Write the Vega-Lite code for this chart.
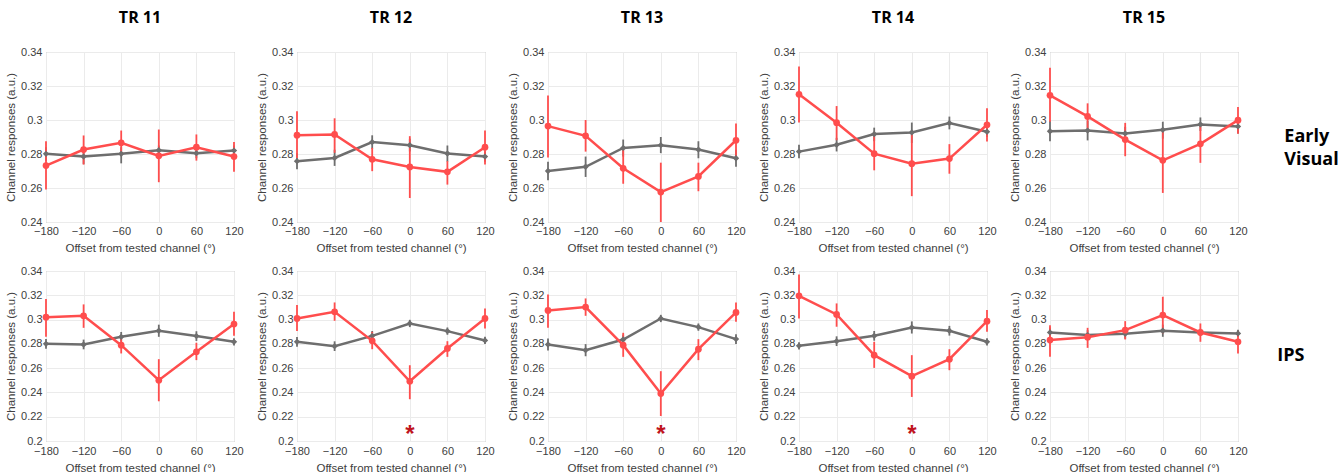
{
"$schema": "https://vega.github.io/schema/vega-lite/v6.json",
"background": "white",
"padding": {"left": 5, "top": 10, "right": 5, "bottom": 0},
"config": {
  "font": "Liberation Sans",
  "view": {"stroke": "#a6a6a6", "strokeWidth": 1},
  "axis": {"labelColor": "#404040", "titleColor": "#404040", "labelFontSize": 11, "titleFontSize": 11.5, "titleFontWeight": "normal", "gridColor": "#ebebeb", "domain": false, "ticks": false, "labelPadding": 4, "titlePadding": 4},
  "axisX": {"labelFlush": false, "tickSize": 0, "labelPadding": -3, "titlePadding": 6},
  "header": {"labelFont": "Open Sans", "labelFontWeight": "bold", "labelFontSize": 16, "labelColor": "black"},
  "concat": {"spacing": 10},
  "facet": {"spacing": 16}
},
"datasets": {"d": [
{"region":"Early Visual","tr":"TR 11","cond":"Condition 1","offset":-180,"mean":0.2801,"lo":0.2760,"hi":0.2840},
{"region":"Early Visual","tr":"TR 11","cond":"Condition 1","offset":-120,"mean":0.2785,"lo":0.2740,"hi":0.2830},
{"region":"Early Visual","tr":"TR 11","cond":"Condition 1","offset":-60,"mean":0.2801,"lo":0.2745,"hi":0.2840},
{"region":"Early Visual","tr":"TR 11","cond":"Condition 1","offset":0,"mean":0.2822,"lo":0.2790,"hi":0.2850},
{"region":"Early Visual","tr":"TR 11","cond":"Condition 1","offset":60,"mean":0.2805,"lo":0.2775,"hi":0.2835},
{"region":"Early Visual","tr":"TR 11","cond":"Condition 1","offset":120,"mean":0.2820,"lo":0.2790,"hi":0.2850},
{"region":"Early Visual","tr":"TR 11","cond":"Condition 2","offset":-180,"mean":0.2732,"lo":0.2591,"hi":0.2875},
{"region":"Early Visual","tr":"TR 11","cond":"Condition 2","offset":-120,"mean":0.2826,"lo":0.2738,"hi":0.2909},
{"region":"Early Visual","tr":"TR 11","cond":"Condition 2","offset":-60,"mean":0.2866,"lo":0.2793,"hi":0.2938},
{"region":"Early Visual","tr":"TR 11","cond":"Condition 2","offset":0,"mean":0.2789,"lo":0.2634,"hi":0.2944},
{"region":"Early Visual","tr":"TR 11","cond":"Condition 2","offset":60,"mean":0.2840,"lo":0.2761,"hi":0.2915},
{"region":"Early Visual","tr":"TR 11","cond":"Condition 2","offset":120,"mean":0.2785,"lo":0.2695,"hi":0.2870},

{"region":"Early Visual","tr":"TR 12","cond":"Condition 1","offset":-180,"mean":0.2758,"lo":0.2710,"hi":0.2805},
{"region":"Early Visual","tr":"TR 12","cond":"Condition 1","offset":-120,"mean":0.2777,"lo":0.2730,"hi":0.2825},
{"region":"Early Visual","tr":"TR 12","cond":"Condition 1","offset":-60,"mean":0.2870,"lo":0.2830,"hi":0.2910},
{"region":"Early Visual","tr":"TR 12","cond":"Condition 1","offset":0,"mean":0.2852,"lo":0.2815,"hi":0.2890},
{"region":"Early Visual","tr":"TR 12","cond":"Condition 1","offset":60,"mean":0.2803,"lo":0.2755,"hi":0.2850},
{"region":"Early Visual","tr":"TR 12","cond":"Condition 1","offset":120,"mean":0.2785,"lo":0.2755,"hi":0.2815},
{"region":"Early Visual","tr":"TR 12","cond":"Condition 2","offset":-180,"mean":0.2911,"lo":0.2777,"hi":0.3052},
{"region":"Early Visual","tr":"TR 12","cond":"Condition 2","offset":-120,"mean":0.2915,"lo":0.2807,"hi":0.3010},
{"region":"Early Visual","tr":"TR 12","cond":"Condition 2","offset":-60,"mean":0.2769,"lo":0.2699,"hi":0.2836},
{"region":"Early Visual","tr":"TR 12","cond":"Condition 2","offset":0,"mean":0.2724,"lo":0.2541,"hi":0.2905},
{"region":"Early Visual","tr":"TR 12","cond":"Condition 2","offset":60,"mean":0.2695,"lo":0.2620,"hi":0.2758},
{"region":"Early Visual","tr":"TR 12","cond":"Condition 2","offset":120,"mean":0.2840,"lo":0.2738,"hi":0.2938},

{"region":"Early Visual","tr":"TR 13","cond":"Condition 1","offset":-180,"mean":0.2700,"lo":0.2645,"hi":0.2755},
{"region":"Early Visual","tr":"TR 13","cond":"Condition 1","offset":-120,"mean":0.2725,"lo":0.2665,"hi":0.2785},
{"region":"Early Visual","tr":"TR 13","cond":"Condition 1","offset":-60,"mean":0.2836,"lo":0.2785,"hi":0.2885},
{"region":"Early Visual","tr":"TR 13","cond":"Condition 1","offset":0,"mean":0.2852,"lo":0.2805,"hi":0.2900},
{"region":"Early Visual","tr":"TR 13","cond":"Condition 1","offset":60,"mean":0.2826,"lo":0.2775,"hi":0.2875},
{"region":"Early Visual","tr":"TR 13","cond":"Condition 1","offset":120,"mean":0.2775,"lo":0.2725,"hi":0.2825},
{"region":"Early Visual","tr":"TR 13","cond":"Condition 2","offset":-180,"mean":0.2964,"lo":0.2779,"hi":0.3144},
{"region":"Early Visual","tr":"TR 13","cond":"Condition 2","offset":-120,"mean":0.2907,"lo":0.2814,"hi":0.3000},
{"region":"Early Visual","tr":"TR 13","cond":"Condition 2","offset":-60,"mean":0.2716,"lo":0.2625,"hi":0.2828},
{"region":"Early Visual","tr":"TR 13","cond":"Condition 2","offset":0,"mean":0.2576,"lo":0.2400,"hi":0.2749},
{"region":"Early Visual","tr":"TR 13","cond":"Condition 2","offset":60,"mean":0.2668,"lo":0.2581,"hi":0.2749},
{"region":"Early Visual","tr":"TR 13","cond":"Condition 2","offset":120,"mean":0.2881,"lo":0.2783,"hi":0.2980},

{"region":"Early Visual","tr":"TR 14","cond":"Condition 1","offset":-180,"mean":0.2814,"lo":0.2775,"hi":0.2855},
{"region":"Early Visual","tr":"TR 14","cond":"Condition 1","offset":-120,"mean":0.2854,"lo":0.2815,"hi":0.2895},
{"region":"Early Visual","tr":"TR 14","cond":"Condition 1","offset":-60,"mean":0.2917,"lo":0.2875,"hi":0.2955},
{"region":"Early Visual","tr":"TR 14","cond":"Condition 1","offset":0,"mean":0.2927,"lo":0.2865,"hi":0.2985},
{"region":"Early Visual","tr":"TR 14","cond":"Condition 1","offset":60,"mean":0.2982,"lo":0.2945,"hi":0.3020},
{"region":"Early Visual","tr":"TR 14","cond":"Condition 1","offset":120,"mean":0.2931,"lo":0.2900,"hi":0.2960},
{"region":"Early Visual","tr":"TR 14","cond":"Condition 2","offset":-180,"mean":0.3151,"lo":0.2986,"hi":0.3315},
{"region":"Early Visual","tr":"TR 14","cond":"Condition 2","offset":-120,"mean":0.2984,"lo":0.2881,"hi":0.3082},
{"region":"Early Visual","tr":"TR 14","cond":"Condition 2","offset":-60,"mean":0.2802,"lo":0.2704,"hi":0.2907},
{"region":"Early Visual","tr":"TR 14","cond":"Condition 2","offset":0,"mean":0.2743,"lo":0.2552,"hi":0.2936},
{"region":"Early Visual","tr":"TR 14","cond":"Condition 2","offset":60,"mean":0.2773,"lo":0.2684,"hi":0.2858},
{"region":"Early Visual","tr":"TR 14","cond":"Condition 2","offset":120,"mean":0.2972,"lo":0.2873,"hi":0.3069},

{"region":"Early Visual","tr":"TR 15","cond":"Condition 1","offset":-180,"mean":0.2934,"lo":0.2875,"hi":0.2995},
{"region":"Early Visual","tr":"TR 15","cond":"Condition 1","offset":-120,"mean":0.2938,"lo":0.2880,"hi":0.2995},
{"region":"Early Visual","tr":"TR 15","cond":"Condition 1","offset":-60,"mean":0.2921,"lo":0.2880,"hi":0.2960},
{"region":"Early Visual","tr":"TR 15","cond":"Condition 1","offset":0,"mean":0.2942,"lo":0.2890,"hi":0.2990},
{"region":"Early Visual","tr":"TR 15","cond":"Condition 1","offset":60,"mean":0.2974,"lo":0.2935,"hi":0.3015},
{"region":"Early Visual","tr":"TR 15","cond":"Condition 1","offset":120,"mean":0.2962,"lo":0.2920,"hi":0.3000},
{"region":"Early Visual","tr":"TR 15","cond":"Condition 2","offset":-180,"mean":0.3145,"lo":0.2989,"hi":0.3308},
{"region":"Early Visual","tr":"TR 15","cond":"Condition 2","offset":-120,"mean":0.3021,"lo":0.2935,"hi":0.3098},
{"region":"Early Visual","tr":"TR 15","cond":"Condition 2","offset":-60,"mean":0.2885,"lo":0.2787,"hi":0.2983},
{"region":"Early Visual","tr":"TR 15","cond":"Condition 2","offset":0,"mean":0.2763,"lo":0.2571,"hi":0.2950},
{"region":"Early Visual","tr":"TR 15","cond":"Condition 2","offset":60,"mean":0.2860,"lo":0.2748,"hi":0.2964},
{"region":"Early Visual","tr":"TR 15","cond":"Condition 2","offset":120,"mean":0.2999,"lo":0.2919,"hi":0.3076},

{"region":"IPS","tr":"TR 11","cond":"Condition 1","offset":-180,"mean":0.2800,"lo":0.2760,"hi":0.2840},
{"region":"IPS","tr":"TR 11","cond":"Condition 1","offset":-120,"mean":0.2795,"lo":0.2755,"hi":0.2835},
{"region":"IPS","tr":"TR 11","cond":"Condition 1","offset":-60,"mean":0.2858,"lo":0.2818,"hi":0.2898},
{"region":"IPS","tr":"TR 11","cond":"Condition 1","offset":0,"mean":0.2908,"lo":0.2858,"hi":0.2958},
{"region":"IPS","tr":"TR 11","cond":"Condition 1","offset":60,"mean":0.2864,"lo":0.2824,"hi":0.2904},
{"region":"IPS","tr":"TR 11","cond":"Condition 1","offset":120,"mean":0.2817,"lo":0.2787,"hi":0.2847},
{"region":"IPS","tr":"TR 11","cond":"Condition 2","offset":-180,"mean":0.3020,"lo":0.2858,"hi":0.3169},
{"region":"IPS","tr":"TR 11","cond":"Condition 2","offset":-120,"mean":0.3031,"lo":0.2932,"hi":0.3125},
{"region":"IPS","tr":"TR 11","cond":"Condition 2","offset":-60,"mean":0.2789,"lo":0.2721,"hi":0.2850},
{"region":"IPS","tr":"TR 11","cond":"Condition 2","offset":0,"mean":0.2501,"lo":0.2327,"hi":0.2674},
{"region":"IPS","tr":"TR 11","cond":"Condition 2","offset":60,"mean":0.2734,"lo":0.2666,"hi":0.2809},
{"region":"IPS","tr":"TR 11","cond":"Condition 2","offset":120,"mean":0.2963,"lo":0.2866,"hi":0.3064},

{"region":"IPS","tr":"TR 12","cond":"Condition 1","offset":-180,"mean":0.2817,"lo":0.2777,"hi":0.2857},
{"region":"IPS","tr":"TR 12","cond":"Condition 1","offset":-120,"mean":0.2781,"lo":0.2741,"hi":0.2821},
{"region":"IPS","tr":"TR 12","cond":"Condition 1","offset":-60,"mean":0.2866,"lo":0.2826,"hi":0.2906},
{"region":"IPS","tr":"TR 12","cond":"Condition 1","offset":0,"mean":0.2968,"lo":0.2938,"hi":0.2998},
{"region":"IPS","tr":"TR 12","cond":"Condition 1","offset":60,"mean":0.2905,"lo":0.2875,"hi":0.2935},
{"region":"IPS","tr":"TR 12","cond":"Condition 1","offset":120,"mean":0.2828,"lo":0.2798,"hi":0.2858},
{"region":"IPS","tr":"TR 12","cond":"Condition 2","offset":-180,"mean":0.3009,"lo":0.2905,"hi":0.3119},
{"region":"IPS","tr":"TR 12","cond":"Condition 2","offset":-120,"mean":0.3064,"lo":0.2990,"hi":0.3141},
{"region":"IPS","tr":"TR 12","cond":"Condition 2","offset":-60,"mean":0.2825,"lo":0.2756,"hi":0.2899},
{"region":"IPS","tr":"TR 12","cond":"Condition 2","offset":0,"mean":0.2492,"lo":0.2344,"hi":0.2624,"sig":0.21},
{"region":"IPS","tr":"TR 12","cond":"Condition 2","offset":60,"mean":0.2762,"lo":0.2693,"hi":0.2822},
{"region":"IPS","tr":"TR 12","cond":"Condition 2","offset":120,"mean":0.3009,"lo":0.2927,"hi":0.3092},

{"region":"IPS","tr":"TR 13","cond":"Condition 1","offset":-180,"mean":0.2795,"lo":0.2745,"hi":0.2845},
{"region":"IPS","tr":"TR 13","cond":"Condition 1","offset":-120,"mean":0.2748,"lo":0.2698,"hi":0.2798},
{"region":"IPS","tr":"TR 13","cond":"Condition 1","offset":-60,"mean":0.2836,"lo":0.2796,"hi":0.2876},
{"region":"IPS","tr":"TR 13","cond":"Condition 1","offset":0,"mean":0.3009,"lo":0.2979,"hi":0.3039},
{"region":"IPS","tr":"TR 13","cond":"Condition 1","offset":60,"mean":0.2938,"lo":0.2908,"hi":0.2968},
{"region":"IPS","tr":"TR 13","cond":"Condition 1","offset":120,"mean":0.2839,"lo":0.2799,"hi":0.2879},
{"region":"IPS","tr":"TR 13","cond":"Condition 2","offset":-180,"mean":0.3075,"lo":0.2932,"hi":0.3207},
{"region":"IPS","tr":"TR 13","cond":"Condition 2","offset":-120,"mean":0.3103,"lo":0.3031,"hi":0.3174},
{"region":"IPS","tr":"TR 13","cond":"Condition 2","offset":-60,"mean":0.2789,"lo":0.2693,"hi":0.2891},
{"region":"IPS","tr":"TR 13","cond":"Condition 2","offset":0,"mean":0.2391,"lo":0.2206,"hi":0.2575,"sig":0.21},
{"region":"IPS","tr":"TR 13","cond":"Condition 2","offset":60,"mean":0.2756,"lo":0.2666,"hi":0.2839},
{"region":"IPS","tr":"TR 13","cond":"Condition 2","offset":120,"mean":0.3059,"lo":0.2982,"hi":0.3141},

{"region":"IPS","tr":"TR 14","cond":"Condition 1","offset":-180,"mean":0.2784,"lo":0.2754,"hi":0.2814},
{"region":"IPS","tr":"TR 14","cond":"Condition 1","offset":-120,"mean":0.2822,"lo":0.2782,"hi":0.2862},
{"region":"IPS","tr":"TR 14","cond":"Condition 1","offset":-60,"mean":0.2866,"lo":0.2826,"hi":0.2906},
{"region":"IPS","tr":"TR 14","cond":"Condition 1","offset":0,"mean":0.2935,"lo":0.2885,"hi":0.2985},
{"region":"IPS","tr":"TR 14","cond":"Condition 1","offset":60,"mean":0.2908,"lo":0.2868,"hi":0.2948},
{"region":"IPS","tr":"TR 14","cond":"Condition 1","offset":120,"mean":0.2817,"lo":0.2787,"hi":0.2847},
{"region":"IPS","tr":"TR 14","cond":"Condition 2","offset":-180,"mean":0.3196,"lo":0.3009,"hi":0.3372},
{"region":"IPS","tr":"TR 14","cond":"Condition 2","offset":-120,"mean":0.3042,"lo":0.2941,"hi":0.3133},
{"region":"IPS","tr":"TR 14","cond":"Condition 2","offset":-60,"mean":0.2707,"lo":0.2602,"hi":0.2817},
{"region":"IPS","tr":"TR 14","cond":"Condition 2","offset":0,"mean":0.2534,"lo":0.2363,"hi":0.2707,"sig":0.21},
{"region":"IPS","tr":"TR 14","cond":"Condition 2","offset":60,"mean":0.2674,"lo":0.2583,"hi":0.2756},
{"region":"IPS","tr":"TR 14","cond":"Condition 2","offset":120,"mean":0.2987,"lo":0.2899,"hi":0.3078},

{"region":"IPS","tr":"TR 15","cond":"Condition 1","offset":-180,"mean":0.2894,"lo":0.2854,"hi":0.2934},
{"region":"IPS","tr":"TR 15","cond":"Condition 1","offset":-120,"mean":0.2872,"lo":0.2832,"hi":0.2912},
{"region":"IPS","tr":"TR 15","cond":"Condition 1","offset":-60,"mean":0.2883,"lo":0.2843,"hi":0.2923},
{"region":"IPS","tr":"TR 15","cond":"Condition 1","offset":0,"mean":0.2908,"lo":0.2858,"hi":0.2958},
{"region":"IPS","tr":"TR 15","cond":"Condition 1","offset":60,"mean":0.2894,"lo":0.2864,"hi":0.2924},
{"region":"IPS","tr":"TR 15","cond":"Condition 1","offset":120,"mean":0.2886,"lo":0.2856,"hi":0.2916},
{"region":"IPS","tr":"TR 15","cond":"Condition 2","offset":-180,"mean":0.2831,"lo":0.2693,"hi":0.2954},
{"region":"IPS","tr":"TR 15","cond":"Condition 2","offset":-120,"mean":0.2855,"lo":0.2767,"hi":0.2932},
{"region":"IPS","tr":"TR 15","cond":"Condition 2","offset":-60,"mean":0.2913,"lo":0.2836,"hi":0.2987},
{"region":"IPS","tr":"TR 15","cond":"Condition 2","offset":0,"mean":0.3037,"lo":0.2886,"hi":0.3188},
{"region":"IPS","tr":"TR 15","cond":"Condition 2","offset":60,"mean":0.2894,"lo":0.2817,"hi":0.2968},
{"region":"IPS","tr":"TR 15","cond":"Condition 2","offset":120,"mean":0.2817,"lo":0.2721,"hi":0.2905}
]},
"data": {"name": "d"},
"vconcat": [
{
  "transform": [{"filter": "datum.region === 'Early Visual'"}],
  "facet": {
    "column": {"field": "tr", "type": "nominal", "header": {"title": null, "labelPadding": 19}},
    "row": {"field": "region", "type": "nominal", "header": {"title": null, "labelOrient": "right", "labelAngle": 0, "labelFontSize": 18, "labelPadding": -14, "labelAlign": "left", "labelLineHeight": 23, "labelExpr": "split(datum.value, ' ')"}}
  },
  "resolve": {"axis": {"y": "independent"}},
  "spec": {
    "width": 188, "height": 170,
    "encoding": {
      "x": {"field": "offset", "type": "quantitative", "scale": {"domain": [-180, 120], "nice": false}, "axis": {"values": [-180, -120, -60, 0, 60, 120], "title": "Offset from tested channel (°)", "grid": true}},
      "color": {"field": "cond", "type": "nominal", "scale": {"domain": ["Condition 1", "Condition 2"], "range": ["#6e6e6e", "#ff4d4d"]}, "legend": null}
    },
    "layer": [
      {"mark": {"type": "rule", "strokeWidth": 1.8},
       "encoding": {"y": {"field": "lo", "type": "quantitative", "scale": {"domain": [0.24, 0.34], "nice": false, "zero": false}, "axis": {"values": [0.24, 0.26, 0.28, 0.3, 0.32, 0.34], "format": ".2~f", "title": "Channel responses (a.u.)", "grid": true}}, "y2": {"field": "hi"}}},
      {"mark": {"type": "line", "strokeWidth": 2.5},
       "encoding": {"y": {"field": "mean", "type": "quantitative", "scale": {"domain": [0.24, 0.34], "nice": false, "zero": false}, "axis": {"values": [0.24, 0.26, 0.28, 0.3, 0.32, 0.34], "format": ".2~f", "title": "Channel responses (a.u.)", "grid": true}}}},
      {"mark": {"type": "point", "filled": true, "opacity": 1},
       "encoding": {"y": {"field": "mean", "type": "quantitative", "scale": {"domain": [0.24, 0.34], "nice": false, "zero": false}, "axis": {"values": [0.24, 0.26, 0.28, 0.3, 0.32, 0.34], "format": ".2~f", "title": "Channel responses (a.u.)", "grid": true}},
         "shape": {"field": "cond", "type": "nominal", "scale": {"domain": ["Condition 1", "Condition 2"], "range": ["diamond", "circle"]}, "legend": null},
         "size": {"field": "cond", "type": "nominal", "scale": {"domain": ["Condition 1", "Condition 2"], "range": [40, 45]}, "legend": null}}}
    ]
  }
},
{
  "transform": [{"filter": "datum.region === 'IPS'"}],
  "facet": {
    "column": {"field": "tr", "type": "nominal", "header": null},
    "row": {"field": "region", "type": "nominal", "header": {"title": null, "labelOrient": "right", "labelAngle": 0, "labelFontSize": 18, "labelPadding": 6, "labelAlign": "left", "labelLineHeight": 23, "labelExpr": "split(datum.value, ' ')"}}
  },
  "resolve": {"axis": {"y": "independent"}},
  "spec": {
    "width": 188, "height": 170,
    "encoding": {
      "x": {"field": "offset", "type": "quantitative", "scale": {"domain": [-180, 120], "nice": false}, "axis": {"values": [-180, -120, -60, 0, 60, 120], "title": "Offset from tested channel (°)", "grid": true}},
      "color": {"field": "cond", "type": "nominal", "scale": {"domain": ["Condition 1", "Condition 2"], "range": ["#6e6e6e", "#ff4d4d"]}, "legend": null}
    },
    "layer": [
      {"mark": {"type": "rule", "strokeWidth": 1.8},
       "encoding": {"y": {"field": "lo", "type": "quantitative", "scale": {"domain": [0.2, 0.34], "nice": false, "zero": false}, "axis": {"values": [0.2, 0.22, 0.24, 0.26, 0.28, 0.3, 0.32, 0.34], "format": ".2~f", "title": "Channel responses (a.u.)", "grid": true}}, "y2": {"field": "hi"}}},
      {"mark": {"type": "line", "strokeWidth": 2.5},
       "encoding": {"y": {"field": "mean", "type": "quantitative", "scale": {"domain": [0.2, 0.34], "nice": false, "zero": false}, "axis": {"values": [0.2, 0.22, 0.24, 0.26, 0.28, 0.3, 0.32, 0.34], "format": ".2~f", "title": "Channel responses (a.u.)", "grid": true}}}},
      {"mark": {"type": "point", "filled": true, "opacity": 1},
       "encoding": {"y": {"field": "mean", "type": "quantitative", "scale": {"domain": [0.2, 0.34], "nice": false, "zero": false}, "axis": {"values": [0.2, 0.22, 0.24, 0.26, 0.28, 0.3, 0.32, 0.34], "format": ".2~f", "title": "Channel responses (a.u.)", "grid": true}},
         "shape": {"field": "cond", "type": "nominal", "scale": {"domain": ["Condition 1", "Condition 2"], "range": ["diamond", "circle"]}, "legend": null},
         "size": {"field": "cond", "type": "nominal", "scale": {"domain": ["Condition 1", "Condition 2"], "range": [40, 45]}, "legend": null}}},
      {"transform": [{"filter": "isValid(datum.sig)"}],
       "mark": {"type": "text", "text": "*", "color": "#c0141e", "fontSize": 24, "fontWeight": "bold", "baseline": "middle", "dy": 6},
       "encoding": {"y": {"field": "sig", "type": "quantitative", "scale": {"domain": [0.2, 0.34], "nice": false, "zero": false}, "axis": {"values": [0.2, 0.22, 0.24, 0.26, 0.28, 0.3, 0.32, 0.34], "format": ".2~f", "title": "Channel responses (a.u.)", "grid": true}}, "color": {"value": "#c0141e"}}}
    ]
  }
}
]
}
